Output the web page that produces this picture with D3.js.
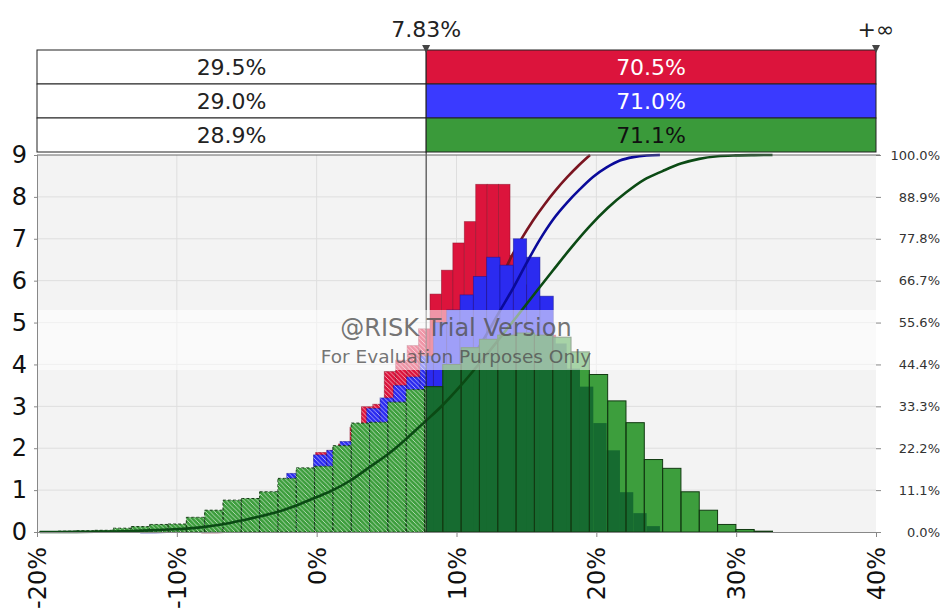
<!DOCTYPE html>
<html>
<head>
<meta charset="utf-8">
<script src="https://cdn.jsdelivr.net/npm/d3@7"></script>
<style>
  body { margin: 0; background: #fff; }
  text { font-family: "DejaVu Sans", Verdana, sans-serif; }
</style>
</head>
<body>
<div id="chart"></div>
<script>
// ---- data ----
var threshold = 7.83;
var xTicks = [-20, -10, 0, 10, 20, 30, 40];
var yTicks = [0, 1, 2, 3, 4, 5, 6, 7, 8, 9];
var pLabels = ['0.0%', '11.1%', '22.2%', '33.3%', '44.4%', '55.6%', '66.7%', '77.8%', '88.9%', '100.0%'];
var leftPct = ['29.5%', '29.0%', '28.9%'];
var rightPct = ['70.5%', '71.0%', '71.1%'];

// histogram bins: first edge (%), bin width (%), densities
var redStart = -8.245, redWidth = 0.8175;
var redHeights = [0.02, 0.05, 0.08, 0.2, 0.35, 0.55, 0.8, 1.0, 1.1, 1.35, 1.9, 1.95, 2.1, 2.5,
  2.99, 3.05, 3.83, 4.1, 4.45, 4.85, 5.68, 6.25, 6.9, 7.41, 8.3, 8.3, 8.3, 6.6, 5.9, 5.2, 4.7, 4.2, 3.8, 3.4];
var blueStart = -12.62, blueWidth = 0.953;
var blueHeights = [0.03, 0.05, 0.1, 0.15, 0.25, 0.35, 0.45, 0.6, 0.75, 0.8, 0.95, 1.4, 1.5, 1.84, 1.95,
  2.16, 2.4, 2.95, 3.2, 3.5, 3.7, 4.2, 5.0, 5.3, 5.66, 6.1, 6.56, 6.37, 7.0, 6.56, 5.63, 4.5, 3.9, 3.47,
  2.6, 1.95, 0.95, 0.45, 0.14];
var greenStart = -19.8, greenWidth = 1.31;
var greenHeights = [0.01, 0.02, 0.03, 0.04, 0.09, 0.13, 0.18, 0.19, 0.35, 0.52, 0.76, 0.8, 0.96, 1.28,
  1.53, 1.57, 2.06, 2.6, 2.62, 3.1, 3.4, 3.47, 4.0, 4.4, 4.6, 4.7, 4.75, 4.7, 4.65, 4.3, 3.76, 3.13,
  2.61, 1.73, 1.52, 0.96, 0.52, 0.18, 0.06, 0.02];

var series = [
  { name: 'red', start: redStart, width: redWidth, heights: redHeights,
    fill: '#dc143c', stroke: '#8a0f28', line: '#7a1420', box: '#dc143c', text: '#fff' },
  { name: 'blue', start: blueStart, width: blueWidth, heights: blueHeights,
    fill: '#2b2bf0', stroke: '#14148a', line: '#0a0a9a', box: '#3a3aff', text: '#fff' },
  { name: 'green', start: greenStart, width: greenWidth, heights: greenHeights,
    fill: '#3d9e3d', stroke: '#123a12', line: '#0b4a14', box: '#3a9a3a', text: '#111' }
];

function binsOf(s) {
  return s.heights.map(function(h, i) {
    return { x0: s.start + i * s.width, x1: s.start + (i + 1) * s.width, h: h };
  });
}
function cdfOf(s) {
  var total = d3.sum(s.heights), cum = 0;
  var pts = [{ x: s.start, p: 0 }];
  s.heights.forEach(function(h, i) {
    cum += h;
    pts.push({ x: s.start + (i + 1) * s.width, p: cum / total });
  });
  return pts;
}

// ---- layout ----
var W = 942, H = 614;
var x = d3.scaleLinear().domain([-20, 40]).range([37, 876]);
var y = d3.scaleLinear().domain([0, 9]).range([532, 155]);
var p = d3.scaleLinear().domain([0, 1]).range([532, 155]);
var xt = x(threshold);

var svg = d3.select('#chart').append('svg').attr('width', W).attr('height', H);
var defs = svg.append('defs');

var hatch = defs.append('pattern')
  .attr('id', 'hatch')
  .attr('width', 4.5)
  .attr('height', 4.5)
  .attr('patternUnits', 'userSpaceOnUse');
hatch.append('path')
  .attr('d', 'M-1,-1L5.5,5.5M-1,3.5L1,5.5M3.5,-1L5.5,1')
  .attr('stroke', 'rgba(255,255,255,0.65)')
  .attr('stroke-width', 0.9);

function clipRect(id, x0, x1) {
  defs.append('clipPath').attr('id', id).append('rect')
    .attr('x', x0).attr('y', 150).attr('width', x1 - x0).attr('height', 385);
}
clipRect('clip-left', 37, xt);
clipRect('clip-right', xt, 876);

function barRect(sel) {
  sel.attr('x', function(d) { return x(d.x0); })
    .attr('width', function(d) { return x(d.x1) - x(d.x0); })
    .attr('y', function(d) { return y(d.h); })
    .attr('height', function(d) { return y(0) - y(d.h); });
}

var greenBins = binsOf(series[2]);
defs.append('clipPath').attr('id', 'clip-green')
  .selectAll('rect').data(greenBins).join('rect').call(barRect);
var allBins = binsOf(series[0]).concat(binsOf(series[1]), greenBins);
defs.append('clipPath').attr('id', 'clip-bars')
  .selectAll('rect').data(allBins).join('rect').call(barRect);

// background + grid
svg.append('rect')
  .attr('x', 37).attr('y', 155).attr('width', 839).attr('height', 377)
  .attr('fill', '#f3f3f3');
svg.append('g').selectAll('line').data(xTicks.slice(1, -1)).join('line')
  .attr('x1', function(d) { return x(d); }).attr('x2', function(d) { return x(d); })
  .attr('y1', 155).attr('y2', 532)
  .attr('stroke', '#dedede');
svg.append('g').selectAll('line').data(yTicks.slice(1, -1)).join('line')
  .attr('x1', 37).attr('x2', 876)
  .attr('y1', function(d) { return y(d); }).attr('y2', function(d) { return y(d); })
  .attr('stroke', '#dedede');

var line = d3.line()
  .x(function(d) { return x(d.x); })
  .y(function(d) { return p(d.p); })
  .curve(d3.curveMonotoneX);

// red and blue: bars then their cumulative line
series.slice(0, 2).forEach(function(s) {
  svg.append('g').selectAll('rect').data(binsOf(s)).join('rect')
    .call(barRect)
    .attr('fill', s.fill)
    .attr('stroke', s.stroke)
    .attr('stroke-opacity', 0.6)
    .attr('stroke-width', 0.8);
  svg.append('path')
    .datum(cdfOf(s))
    .attr('d', line)
    .attr('fill', 'none')
    .attr('stroke', s.line)
    .attr('stroke-width', 2.6);
});

// green bars
var g = series[2];
svg.append('g').selectAll('rect').data(greenBins).join('rect')
  .call(barRect)
  .attr('fill', g.fill);

// overlap of green with red/blue on the right side: dark green
var ov = svg.append('g').attr('clip-path', 'url(#clip-right)')
  .append('g').attr('clip-path', 'url(#clip-green)');
ov.selectAll('rect').data(binsOf(series[0]).concat(binsOf(series[1]))).join('rect')
  .call(barRect)
  .attr('fill', '#166b30');

// green outlines
svg.append('g').selectAll('rect').data(greenBins).join('rect')
  .call(barRect)
  .attr('fill', 'none')
  .attr('stroke', g.stroke)
  .attr('stroke-width', 1)
  .attr('stroke-dasharray', function(d) { return x(d.x1) <= xt + 1 ? '3,2' : null; });

// hatching on the left of the threshold
svg.append('g').attr('clip-path', 'url(#clip-left)')
  .append('rect')
  .attr('clip-path', 'url(#clip-bars)')
  .attr('x', 37).attr('y', 155).attr('width', xt - 37).attr('height', 377)
  .attr('fill', 'url(#hatch)');

svg.append('path')
  .datum(cdfOf(g))
  .attr('d', line)
  .attr('fill', 'none')
  .attr('stroke', g.line)
  .attr('stroke-width', 2.6);

// threshold line
svg.append('line')
  .attr('x1', xt).attr('x2', xt).attr('y1', 50).attr('y2', 532)
  .attr('stroke', '#222').attr('stroke-width', 1);

// watermark band
svg.append('rect')
  .attr('x', 37).attr('y', 310).attr('width', 839).attr('height', 60)
  .attr('fill', '#fff').attr('opacity', 0.55);
svg.append('text')
  .attr('x', 456).attr('y', 336)
  .attr('text-anchor', 'middle')
  .attr('font-size', 24)
  .attr('fill', 'rgba(80,80,80,0.8)')
  .text('@RISK Trial Version');
svg.append('text')
  .attr('x', 456).attr('y', 363)
  .attr('text-anchor', 'middle')
  .attr('font-size', 18.5)
  .attr('fill', 'rgba(80,80,80,0.8)')
  .text('For Evaluation Purposes Only');

// axes
var left = svg.append('g')
  .attr('transform', 'translate(37,0)')
  .call(d3.axisLeft(y).tickValues(yTicks).tickSize(3).tickPadding(7));
left.select('.domain').attr('stroke', '#888');
left.selectAll('.tick line').attr('stroke', '#888');
left.selectAll('text').attr('font-size', 24).attr('fill', '#111').style('font-family', '"DejaVu Sans", sans-serif');

var bottom = svg.append('g')
  .attr('transform', 'translate(0,532)')
  .call(d3.axisBottom(x).tickValues(xTicks).tickSize(5).tickFormat(function(d) { return d + '%'; }));
bottom.select('.domain').attr('stroke', '#888');
bottom.selectAll('.tick line').attr('stroke', '#888');
bottom.selectAll('text')
  .attr('transform', 'rotate(-90)')
  .attr('text-anchor', 'end')
  .attr('x', -15).attr('y', 0).attr('dy', '0.36em')
  .attr('font-size', 24).attr('fill', '#111')
  .style('font-family', '"DejaVu Sans", sans-serif');

var right = svg.append('g')
  .attr('transform', 'translate(876,0)')
  .call(d3.axisRight(p).tickValues(d3.range(10).map(function(i) { return i / 9; }))
    .tickSize(5)
    .tickFormat(function(d, i) { return pLabels[i]; }));
right.select('.domain').remove();
right.selectAll('.tick line').attr('stroke', '#888');
right.selectAll('text')
  .attr('x', 64).attr('text-anchor', 'end')
  .attr('font-size', 13).attr('fill', '#333')
  .style('font-family', '"DejaVu Sans", sans-serif');

// top line of plot at 100%
svg.append('line')
  .attr('x1', 37).attr('x2', 880).attr('y1', 155).attr('y2', 155)
  .attr('stroke', '#666');

// top probability boxes
var rowTop = 50, rowH = 34;
series.forEach(function(s, i) {
  var ty = rowTop + i * rowH;
  svg.append('rect')
    .attr('x', 37).attr('y', ty).attr('width', xt - 37).attr('height', rowH)
    .attr('fill', '#fff').attr('stroke', '#222');
  svg.append('rect')
    .attr('x', xt).attr('y', ty).attr('width', 876 - xt).attr('height', rowH)
    .attr('fill', s.box).attr('stroke', '#222');
  svg.append('text')
    .attr('x', (37 + xt) / 2).attr('y', ty + rowH / 2).attr('dy', '0.36em')
    .attr('text-anchor', 'middle').attr('font-size', 22).attr('fill', '#222')
    .text(leftPct[i]);
  svg.append('text')
    .attr('x', (xt + 876) / 2).attr('y', ty + rowH / 2).attr('dy', '0.36em')
    .attr('text-anchor', 'middle').attr('font-size', 22).attr('fill', s.text)
    .text(rightPct[i]);
});

// delimiter labels and markers
[[xt, '7.83%'], [876, '+\u221e']].forEach(function(m) {
  svg.append('text')
    .attr('x', m[0]).attr('y', 37)
    .attr('text-anchor', 'middle').attr('font-size', 22).attr('fill', '#222')
    .text(m[1]);
  svg.append('path')
    .attr('d', 'M' + (m[0] - 4) + ',45L' + (m[0] + 4) + ',45L' + m[0] + ',53Z')
    .attr('fill', '#444');
});
</script>
</body>
</html>
